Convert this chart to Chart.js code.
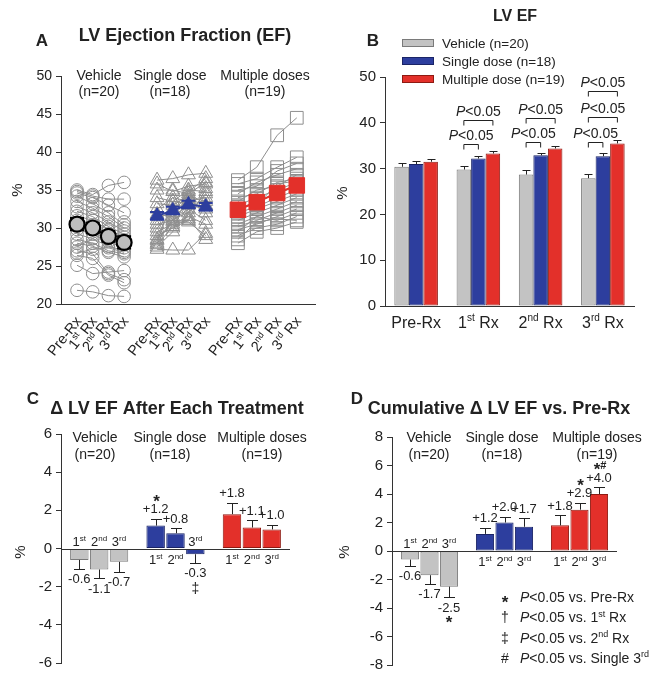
<!DOCTYPE html>
<html><head><meta charset="utf-8">
<script src="https://cdn.jsdelivr.net/npm/chart.js@4/dist/chart.umd.min.js"></script>
<style>
html,body{margin:0;padding:0;background:#fff}
body{width:654px;height:679px;position:relative;overflow:hidden}
canvas{position:absolute;display:block}
</style></head><body>
<canvas id="cA" width="327" height="362" style="left:0;top:0"></canvas>
<canvas id="cB" width="327" height="340" style="left:327px;top:0"></canvas>
<canvas id="cC" width="327" height="339" style="left:0;top:340px"></canvas>
<canvas id="cD" width="327" height="339" style="left:327px;top:340px"></canvas>
<script>
// ================= DATA =================
const groups = ['Vehicle', 'Single dose', 'Multiple doses'];
const groupN = [20, 18, 19];
const timepoints = ['Pre-Rx', '1^{st} Rx', '2^{nd} Rx', '3^{rd} Rx'];
const ordinals = ['1^{st}', '2^{nd}', '3^{rd}'];
const legendB = ['Vehicle (n=20)', 'Single dose (n=18)', 'Multiple dose (n=19)'];

// Panel A: individual animals, EF (%) at Pre-Rx, 1st, 2nd, 3rd Rx
const vehicleEF = [
  [35.0, 34.4, 35.6, 36.0], [34.8, 34.2, 33.8, 33.8], [34.6, 34.0, 33.0, 32.0],
  [34.2, 33.2, 32.0, 30.4], [33.5, 32.6, 31.5, 30.0], [32.8, 32.0, 30.8, 29.6],
  [32.2, 31.5, 30.2, 29.2], [31.6, 31.0, 29.8, 28.8], [31.0, 30.4, 29.2, 28.4],
  [30.5, 29.8, 28.6, 27.8], [29.8, 29.2, 28.2, 27.4], [29.2, 28.6, 27.6, 27.0],
  [28.5, 28.0, 27.0, 26.6], [28.0, 27.6, 26.8, 26.2], [27.5, 28.6, 29.6, 30.8],
  [27.0, 26.6, 24.0, 23.2], [26.7, 27.2, 27.4, 26.8], [26.4, 26.0, 23.8, 22.8],
  [25.1, 24.0, 24.2, 24.4], [21.8, 21.6, 21.1, 21.0]
];
const singleEF = [
  [36.3, 36.5, 37.0, 37.2], [35.8, 34.8, 35.5, 35.8], [35.0, 35.0, 34.5, 36.0],
  [34.0, 33.5, 35.0, 34.8], [33.2, 33.0, 34.2, 33.5], [32.5, 34.0, 33.5, 34.0],
  [31.8, 31.5, 33.0, 32.5], [31.0, 32.5, 34.0, 32.0], [30.5, 31.0, 32.5, 31.0],
  [30.0, 32.0, 33.8, 33.0], [29.5, 30.5, 31.5, 30.5], [29.0, 30.0, 31.0, 35.2],
  [28.5, 30.8, 30.8, 29.0], [28.0, 31.2, 32.0, 34.5], [27.8, 30.2, 31.2, 28.5],
  [27.5, 29.5, 34.8, 36.5], [27.2, 27.1, 27.1, 29.3], [28.3, 33.5, 33.2, 32.8]
];
const multipleEF = [
  [36.3, 38.0, 42.2, 44.5], [35.8, 36.5, 38.0, 39.3], [35.0, 35.5, 37.5, 38.5],
  [34.5, 36.0, 37.0, 37.8], [34.0, 34.5, 36.0, 36.5], [33.5, 35.0, 35.5, 37.0],
  [33.0, 34.0, 35.0, 36.0], [32.5, 33.5, 34.5, 35.5], [32.0, 32.8, 34.0, 35.0],
  [31.5, 32.5, 33.5, 34.5], [31.0, 32.0, 33.0, 34.0], [30.5, 31.5, 32.5, 33.5],
  [30.2, 31.0, 32.0, 33.0], [29.8, 30.5, 31.5, 32.5], [29.5, 31.5, 31.0, 32.0],
  [29.0, 30.0, 30.5, 31.5], [28.5, 30.8, 31.2, 31.0], [28.0, 29.5, 30.0, 30.8],
  [32.8, 33.0, 35.8, 36.2]
];
const vehicleMeanA = [30.5, 30.0, 28.9, 28.1];
const vehicleSemA = [0.8, 0.7, 0.7, 0.8];
const singleMeanA = [31.6, 32.3, 33.1, 32.8];
const singleSemA = [0.5, 0.5, 0.5, 0.5];
const multipleMeanA = [32.4, 33.4, 34.6, 35.6];
const multipleSemA = [0.6, 0.6, 0.6, 0.7];

// Panel B: LV EF mean ± SEM
const efVehicle = [30.4, 29.8, 28.7, 27.9];
const efVehicleSem = [0.9, 0.8, 0.9, 0.9];
const efSingle = [31.0, 32.2, 32.9, 32.7];
const efSingleSem = [0.6, 0.5, 0.6, 0.6];
const efMultiple = [31.5, 33.3, 34.4, 35.5];
const efMultipleSem = [0.6, 0.5, 0.6, 0.7];
// significance brackets: [category, from series, to series, bracket level (%)]
const bracketsB = [[1, 0, 1, 35.3], [1, 0, 2, 40.6], [2, 0, 1, 35.7], [2, 0, 2, 41.1],
                   [3, 0, 1, 35.7], [3, 0, 2, 41.3], [3, 0, 2, 46.9]];
const bracketText = '_{P}<0.05';

// Panel C: change after each treatment
const dEachVehicle = [-0.6, -1.1, -0.7];
const dEachVehicleSem = [0.45, 0.47, 0.52];
const dEachSingle = [1.2, 0.8, -0.3];
const dEachSingleSem = [0.37, 0.27, 0.45];
const dEachMultiple = [1.8, 1.1, 1.0];
const dEachMultipleSem = [0.6, 0.4, 0.25];
const sigEach = [['', '', ''], ['*', '', '‡'], ['', '', '']];

// Panel D: cumulative change vs Pre-Rx
const dCumVehicle = [-0.6, -1.7, -2.5];
const dCumVehicleSem = [0.43, 0.6, 0.72];
const dCumSingle = [1.2, 2.0, 1.7];
const dCumSingleSem = [0.43, 0.42, 0.6];
const dCumMultiple = [1.8, 2.9, 4.0];
const dCumMultipleSem = [0.7, 0.5, 0.47];
const sigCum = [['', '', '*'], ['', '', ''], ['', '*', '*^{#}']];
const legendD = [['*', '_{P}<0.05 vs. Pre-Rx'], ['†', '_{P}<0.05 vs. 1^{st} Rx'],
                 ['‡', '_{P}<0.05 vs. 2^{nd} Rx'], ['#', '_{P}<0.05 vs. Single 3^{rd}']];

// ================= STYLE =================
const FONT = '"Liberation Sans", Arial, Helvetica, sans-serif';
const INK = '#222';
const AXIS = '#333';
const FILL = ['#c3c3c3', '#2d3e9e', '#e3302a'];
const EDGE = ['#7a7a7a', '#1a2466', '#8e1a12'];
const SUBJ = '#8e8e8e';
Chart.defaults.font.family = FONT;
Chart.defaults.color = INK;

function parts(str) {
  const out = []; const re = /\^\{([^}]*)\}|_\{([^}]*)\}/g; let last = 0, m;
  while ((m = re.exec(str))) {
    if (m.index > last) out.push(str.slice(last, m.index));
    if (m[1] !== undefined) out.push({ s: m[1] }); else out.push({ i: m[2] });
    last = re.lastIndex;
  }
  if (last < str.length) out.push(str.slice(last));
  return out;
}
function drawText(ctx, str, x, cy, o) {
  o = o || {};
  const size = o.size || 13, w8 = o.weight || 'normal';
  const segs = parts(str).map(p => typeof p === 'string'
    ? { t: p, f: `${w8} ${size}px ${FONT}`, dy: 0 }
    : p.s !== undefined
      ? { t: p.s, f: `${w8} ${Math.round(size * 0.62)}px ${FONT}`, dy: -size * 0.4 }
      : { t: p.i, f: `italic ${w8} ${size}px ${FONT}`, dy: 0 });
  let W = 0;
  segs.forEach(s => { ctx.font = s.f; s.w = ctx.measureText(s.t).width; W += s.w; });
  let x0 = o.align === 'left' ? x : o.align === 'right' ? x - W : x - W / 2;
  const base = cy + size * 0.36 + (o.dy || 0);
  ctx.save(); ctx.fillStyle = o.color || INK; ctx.textAlign = 'left'; ctx.textBaseline = 'alphabetic';
  segs.forEach(s => { ctx.font = s.f; ctx.fillText(s.t, x0, base + s.dy); x0 += s.w; });
  ctx.restore();
}
function vText(ctx, str, x, cy, size) {
  ctx.save(); ctx.translate(x, cy); ctx.rotate(-Math.PI / 2);
  drawText(ctx, str, 0, 0, { size }); ctx.restore();
}
function yAxis(min, max, step, size, width) {
  return {
    min, max,
    ticks: { stepSize: step, font: { size }, color: INK, padding: 4 },
    grid: { drawOnChartArea: false, tickLength: 5, color: AXIS, lineWidth: 1 },
    border: { color: AXIS, width: 1 },
    afterFit(s) { s.width = width; }
  };
}
const baseOpts = {
  responsive: false, animation: false, devicePixelRatio: 1, events: [],
  plugins: { legend: { display: false }, tooltip: { enabled: false } }
};

// ================= PANEL A =================
const slotsA = [[0, 1, 2, 3], [5.1, 6.1, 7.1, 8.2], [10.25, 11.45, 12.75, 14]];
const subjA = [vehicleEF, singleEF, multipleEF];
const meanA = [vehicleMeanA, singleMeanA, multipleMeanA];
const semA = [vehicleSemA, singleSemA, multipleSemA];
const markA = [{ ps: 'circle', r: 6.3 }, { ps: 'triangle', r: 8 }, { ps: 'rect', r: 9 }];
const meanMark = [
  { ps: 'circle', r: 7.5, fill: '#bdbdbd', edge: '#000', line: '#000', bw: 2.2 },
  { ps: 'triangle', r: 8, fill: FILL[1], edge: FILL[1], line: FILL[1], bw: 1 },
  { ps: 'rect', r: 11, fill: FILL[2], edge: FILL[2], line: FILL[2], bw: 1 }
];
const dsA = [];
meanA.forEach((m, g) => dsA.push({
  data: m.map((v, i) => ({ x: slotsA[g][i], y: v })), sem: semA[g], isMean: true,
  borderColor: meanMark[g].line, borderWidth: 2, pointStyle: meanMark[g].ps, pointRadius: meanMark[g].r,
  pointBackgroundColor: meanMark[g].fill, pointBorderColor: meanMark[g].edge, pointBorderWidth: meanMark[g].bw
}));
subjA.forEach((arr, g) => arr.forEach(row => dsA.push({
  data: row.map((v, i) => ({ x: slotsA[g][i], y: v })),
  borderColor: SUBJ, borderWidth: 1, pointStyle: markA[g].ps, pointRadius: markA[g].r,
  pointBackgroundColor: 'rgba(255,255,255,0)', pointBorderColor: SUBJ, pointBorderWidth: 1
})));
new Chart(document.getElementById('cA'), {
  type: 'line',
  data: { datasets: dsA },
  options: Object.assign({}, baseOpts, {
    layout: { padding: { top: 76, right: 12, left: 0, bottom: 0 } },
    scales: {
      x: { type: 'linear', min: -1.02, max: 15.16, ticks: { display: false }, grid: { display: false },
           border: { color: AXIS }, afterFit(s) { s.height = 58; } },
      y: yAxis(20, 50, 5, 14, 61)
    }
  }),
  plugins: [{
    id: 'decoA',
    beforeDatasetDraw(chart, args) {
      const ds = chart.data.datasets[args.index];
      if (!ds.isMean) return;
      const ctx = chart.ctx, y = chart.scales.y, x = chart.scales.x;
      ctx.save(); ctx.strokeStyle = ds.borderColor; ctx.lineWidth = 2;
      ds.data.forEach((p, i) => {
        const px = x.getPixelForValue(p.x), a = y.getPixelForValue(p.y - ds.sem[i]), b = y.getPixelForValue(p.y + ds.sem[i]);
        ctx.beginPath(); ctx.moveTo(px, a); ctx.lineTo(px, b);
        ctx.moveTo(px - 7, a); ctx.lineTo(px + 7, a); ctx.moveTo(px - 7, b); ctx.lineTo(px + 7, b); ctx.stroke();
      });
      ctx.restore();
    },
    afterDraw(chart) {
      const ctx = chart.ctx, x = chart.scales.x;
      drawText(ctx, 'A', 42, 40, { size: 17, weight: 'bold' });
      drawText(ctx, 'LV Ejection Fraction (EF)', 185, 35, { size: 18, weight: 'bold' });
      const gx = [99, 170, 265];
      groups.forEach((g, i) => {
        drawText(ctx, g, gx[i], 75, { size: 14 });
        drawText(ctx, '(n=' + groupN[i] + ')', gx[i], 91, { size: 14 });
      });
      vText(ctx, '%', 17, 190, 15);
      slotsA.forEach(sl => sl.forEach((v, i) => {
        ctx.save(); ctx.translate(x.getPixelForValue(v) + 1, 318); ctx.rotate(-52 * Math.PI / 180);
        drawText(ctx, timepoints[i], 0, 0, { size: 14.5, align: 'right' }); ctx.restore();
      }));
    }
  }]
});

// ================= generic bar error plugin =================
function errPlugin(cap) {
  return {
    id: 'err',
    afterDatasetsDraw(chart) {
      const ctx = chart.ctx, y = chart.scales.y;
      chart.data.datasets.forEach((ds, di) => {
        if (!ds.sem) return;
        chart.getDatasetMeta(di).data.forEach((el, i) => {
          const v = ds.data[i], e = ds.sem[i], s = v < 0 ? -1 : 1;
          const y0 = y.getPixelForValue(v), y1 = y.getPixelForValue(v + s * e);
          const px = Math.round(el.x) + 0.5, py = Math.round(y1) + 0.5;
          ctx.save(); ctx.strokeStyle = INK; ctx.lineWidth = 1;
          ctx.beginPath(); ctx.moveTo(px, y0); ctx.lineTo(px, py);
          ctx.moveTo(px - cap, py); ctx.lineTo(px + cap, py); ctx.stroke(); ctx.restore();
        });
      });
    }
  };
}

// ================= PANEL B =================
const efSeries = [efVehicle, efSingle, efMultiple];
const efSems = [efVehicleSem, efSingleSem, efMultipleSem];
new Chart(document.getElementById('cB'), {
  type: 'bar',
  data: {
    labels: timepoints,
    datasets: efSeries.map((d, k) => ({
      label: legendB[k], data: d, sem: efSems[k],
      backgroundColor: FILL[k], borderColor: EDGE[k], borderWidth: 1, borderSkipped: false,
      categoryPercentage: 0.7, barPercentage: 1.0
    }))
  },
  options: Object.assign({}, baseOpts, {
    layout: { padding: { top: 77, right: 20, left: 0, bottom: 0 } },
    scales: {
      x: { ticks: { display: false }, grid: { display: false }, border: { color: AXIS },
           afterFit(s) { s.height = 34; } },
      y: yAxis(0, 50, 10, 15, 58)
    }
  }),
  plugins: [errPlugin(4), {
    id: 'decoB',
    afterDraw(chart) {
      const ctx = chart.ctx, y = chart.scales.y, x = chart.scales.x;
      drawText(ctx, 'LV EF', 188, 15, { size: 16, weight: 'bold' });
      drawText(ctx, 'B', 46, 40, { size: 17, weight: 'bold' });
      chart.data.datasets.forEach((ds, k) => {
        const cy = 43 + k * 18;
        ctx.save(); ctx.fillStyle = ds.backgroundColor; ctx.strokeStyle = ds.borderColor; ctx.lineWidth = 1;
        ctx.fillRect(75, cy - 4, 32, 8); ctx.strokeRect(75.5, cy - 3.5, 31, 7); ctx.restore();
        drawText(ctx, ds.label, 115, cy, { size: 13.5, align: 'left' });
      });
      chart.data.labels.forEach((l, i) => drawText(ctx, l, x.getPixelForTick(i), 322, { size: 16 }));
      vText(ctx, '%', 15, 193, 15);
      bracketsB.forEach(([c, a, b, lvl]) => {
        const xa = chart.getDatasetMeta(a).data[c].x, xb = chart.getDatasetMeta(b).data[c].x;
        const py = Math.round(y.getPixelForValue(lvl)) + 0.5;
        ctx.save(); ctx.strokeStyle = INK; ctx.lineWidth = 1; ctx.beginPath();
        ctx.moveTo(xa, py + 5); ctx.lineTo(xa, py); ctx.lineTo(xb, py); ctx.lineTo(xb, py + 5); ctx.stroke(); ctx.restore();
        drawText(ctx, bracketText, (xa + xb) / 2, py - 9.5, { size: 14 });
      });
    }
  }]
});

// ================= PANELS C & D =================
function deltaChart(id, vals, sems, sigs, yMin, yMax, yw, pad, title, letter, gx, gy, extra) {
  const datasets = ordinals.map((o, k) => ({
    label: o, data: vals.map(g => g[k]), sem: sems.map(g => g[k]), sig: sigs.map(g => g[k]),
    backgroundColor: FILL, borderColor: EDGE, borderWidth: 1, borderSkipped: false,
    categoryPercentage: 0.78, barPercentage: 0.93
  }));
  new Chart(document.getElementById(id), {
    type: 'bar',
    data: { labels: groups, datasets },
    options: Object.assign({}, baseOpts, {
      layout: { padding: pad },
      scales: { x: { display: false }, y: yAxis(yMin, yMax, 2, 15, yw) }
    }),
    plugins: [errPlugin(5.5), {
      id: 'decoDelta',
      afterDraw(chart) {
        const ctx = chart.ctx, y = chart.scales.y, ca = chart.chartArea;
        const z = Math.round(y.getPixelForValue(0)) + 0.5;
        ctx.save(); ctx.strokeStyle = AXIS; ctx.lineWidth = 1; ctx.beginPath();
        ctx.moveTo(ca.left, z); ctx.lineTo(ca.right, z); ctx.stroke(); ctx.restore();
        drawText(ctx, letter, title.lx, title.ly, { size: 17, weight: 'bold' });
        drawText(ctx, title.text, title.x, title.y, { size: 18, weight: 'bold' });
        groups.forEach((g, i) => {
          drawText(ctx, g, gx[i], gy, { size: 14 });
          drawText(ctx, '(n=' + groupN[i] + ')', gx[i], gy + 16.5, { size: 14 });
        });
        vText(ctx, '%', title.px, 212, 15);
        chart.data.datasets.forEach((ds, k) => {
          chart.getDatasetMeta(k).data.forEach((el, i) => {
            const v = ds.data[i], e = ds.sem[i];
            const lab = (v > 0 ? '+' : '') + v.toFixed(1);
            if (v >= 0) {
              const ly = y.getPixelForValue(v + e) - 10;
              drawText(ctx, lab, el.x, ly, { size: 13 });
              drawText(ctx, ds.label, el.x, z + 10, { size: 13 });
              if (ds.sig[i]) drawText(ctx, ds.sig[i], el.x + 1, ly - 13, { size: 17, weight: 'bold', dy: 5 });
            } else {
              const ly = y.getPixelForValue(v - e) + 10;
              drawText(ctx, lab, el.x, ly, { size: 13 });
              drawText(ctx, ds.label, el.x, z - 8, { size: 13 });
              if (ds.sig[i] === '*') drawText(ctx, ds.sig[i], el.x, ly + 10, { size: 17, weight: 'bold', dy: 5 });
              else if (ds.sig[i]) drawText(ctx, ds.sig[i], el.x, ly + 15, { size: 14 });
            }
          });
        });
        if (extra) extra(ctx);
      }
    }]
  });
}
deltaChart('cC',
  [dEachVehicle, dEachSingle, dEachMultiple], [dEachVehicleSem, dEachSingleSem, dEachMultipleSem], sigEach,
  -6, 6, 61, { top: 94, right: 37, left: 0, bottom: 16 },
  { text: 'Δ LV EF After Each Treatment', x: 177, y: 68, lx: 33, ly: 58, px: 20 }, 'C', [95, 170, 262], 97);
deltaChart('cD',
  [dCumVehicle, dCumSingle, dCumMultiple], [dCumVehicleSem, dCumSingleSem, dCumMultipleSem], sigCum,
  -8, 8, 65, { top: 97, right: 37, left: 0, bottom: 14 },
  { text: 'Cumulative Δ LV EF vs. Pre-Rx', x: 172, y: 68, lx: 30, ly: 58, px: 17 }, 'D', [102, 175, 270], 97,
  ctx => {
    legendD.forEach(([sym, t], i) => {
      const cy = 257 + i * 20.3;
      drawText(ctx, sym, 178, cy, sym === '*' ? { size: 17, weight: 'bold', dy: 5 } : { size: 14 });
      drawText(ctx, t, 193, cy, { size: 14, align: 'left' });
    });
  });
</script>
</body></html>
